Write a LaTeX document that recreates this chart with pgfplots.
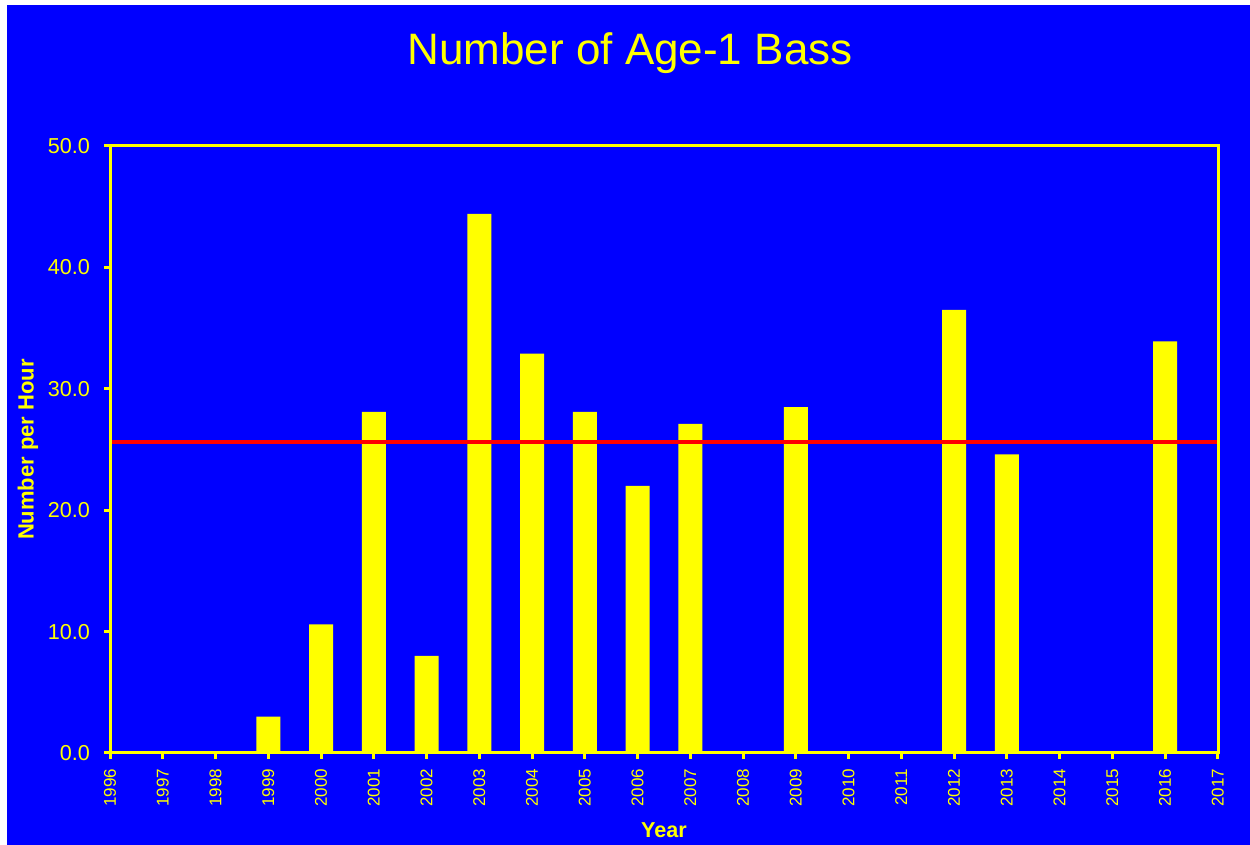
\documentclass[border=0pt]{standalone}
\usepackage{pgfplots}
\pgfplotsset{compat=1.18}
\usepackage{fontspec}
\setmainfont{Liberation Sans}
\definecolor{bgblue}{RGB}{0,0,255}
\definecolor{ylw}{RGB}{255,255,0}
\definecolor{rd}{RGB}{255,0,0}
\begin{document}
\begin{tikzpicture}
\useasboundingbox (0,0) rectangle (625pt,422.5pt);
\fill[white] (0,0) rectangle (625pt,422.5pt);
\fill[bgblue] (3.5pt,0) rectangle (625pt,420pt);
\node[anchor=base, text=ylw, font=\fontsize{22}{26}\selectfont] at (315pt,390pt) {Number of Age-1 Bass};
\begin{axis}[
  at={(55pt,46pt)}, anchor=south west,
  scale only axis, width=554pt, height=303.5pt,
  xmin=1996, xmax=2017, ymin=0, ymax=50,
  axis line style={ylw, line width=1.5pt},
  every tick/.style={ylw, line width=1.5pt},
  tick align=outside, tick pos=left, major tick length=3pt,
  xtick={1996,...,2017}, ytick={0,10,...,50},
  xticklabel style={rotate=90, anchor=east, xshift=-1.5pt, text=ylw, font=\fontsize{8.5}{10}\selectfont},
  xticklabel={\pgfmathprintnumber[1000 sep={},fixed,precision=0]{\tick}},
  yticklabel style={text=ylw, xshift=-3.5pt, font=\fontsize{10.8}{13}\selectfont, /pgf/number format/.cd, fixed, fixed zerofill, precision=1},
  /pgf/number format/assume math mode=true,
  ylabel={\textbf{Number per Hour}},
  xlabel={\textbf{Year}},
  ylabel style={text=ylw, font=\fontsize{11}{13}\selectfont, at={(axis description cs:-0.074,0.5)}, anchor=center},
  xlabel style={text=ylw, font=\fontsize{10.8}{13}\selectfont, at={(axis description cs:0.5,-0.127)}, anchor=center},
  axis on top,
  clip=false,
]
\addplot[ybar, bar width=12pt, fill=ylw, draw=none] coordinates {
  (1999,3.0) (2000,10.6) (2001,28.1) (2002,8.0) (2003,44.4) (2004,32.9)
  (2005,28.1) (2006,22.0) (2007,27.1) (2009,28.5) (2012,36.5) (2013,24.6) (2016,33.9)
};
\addplot[rd, line width=2pt] coordinates {(1996,25.6) (2017,25.6)};
\end{axis}
\end{tikzpicture}
\end{document}
